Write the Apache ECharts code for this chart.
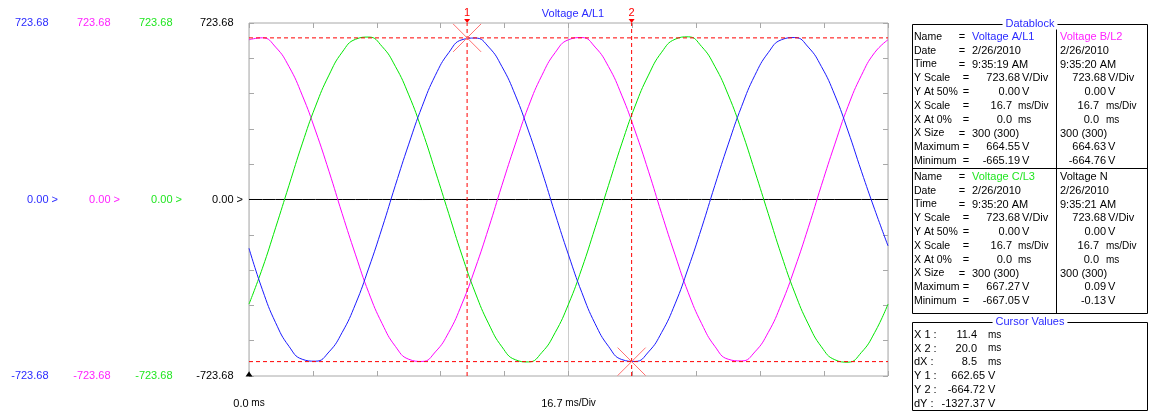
<!DOCTYPE html>
<html>
<head>
<meta charset="utf-8">
<title>Voltage A/L1</title>
<style>
html,body{margin:0;padding:0;background:#fff;}
#main{width:1154px;height:418px;}
</style>
</head>
<body>
<div id="main"></div>
<script src="https://cdn.jsdelivr.net/npm/echarts@6/dist/echarts.min.js"></script>
<script>
// sample times (ms) and channel values (V)
var timeMs = [0.00,0.70,1.39,2.09,2.78,3.48,4.18,4.87,5.57,6.26,6.96,7.65,8.35,9.05,9.74,10.44,11.13,11.83,12.53,13.22,13.92,14.61,15.31,16.00,16.70,17.40,18.09,18.79,19.48,20.18,20.88,21.57,22.27,22.96,23.66,24.35,25.05,25.75,26.44,27.14,27.83,28.53,29.23,29.92,30.62,31.31,32.01,32.70,33.40];
var voltA = [-200,-370,-505,-602,-655,-663,-625,-545,-428,-281,-116,58,227,382,509,602,655,662,625,545,428,281,116,-58,-227,-382,-509,-602,-656,-664,-625,-545,-428,-281,-116,58,227,382,509,602,655,664,625,545,428,281,116,-40,-190];
var voltB = [655,663,625,545,428,281,116,-58,-227,-382,-509,-602,-655,-664,-625,-545,-428,-281,-116,58,227,382,509,602,655,664,625,545,428,281,116,-58,-227,-382,-509,-602,-655,-662,-625,-545,-428,-281,-116,58,227,382,509,602,655];
var voltC = [-429,-282,-116,58,228,383,510,604,657,666,627,546,429,282,116,-58,-228,-383,-510,-604,-657,-666,-627,-546,-429,-282,-116,58,228,383,510,604,657,667,627,546,429,282,116,-58,-228,-383,-510,-604,-657,-667,-627,-546,-429];
var voltN = [0.02,-0.04,0.05,0.01,-0.06,0.09,0.03,-0.02,-0.08,0.04,0.06,-0.03,0.01,-0.13,0.02,0.07,-0.05,0.03,-0.01,0.05,-0.07,0.02,0.08,-0.04,0.01,-0.06,0.04,0.02,-0.09,0.05,-0.02,0.06,-0.03,0.01,0.07,-0.05,0.03,-0.08,0.02,0.04,-0.01,0.06,-0.04,0.03,-0.06,0.05,0.01,-0.03,0.02];

var yScale = 723.68;
var xSpan = 33.4;
var xDiv = 16.7;

var cursorX = [11.4, 20.0];
var cursorY = [662.65, -664.72];

// datablock
var rowLabels = ['Name','Date','Time','Y Scale','Y At 50%','X Scale','X At 0%','X Size','Maximum','Minimum'];
var chNames = ['Voltage A/L1','Voltage B/L2','Voltage C/L3','Voltage N'];
var chDates = ['2/26/2010','2/26/2010','2/26/2010','2/26/2010'];
var chTimes = ['9:35:19 AM','9:35:20 AM','9:35:20 AM','9:35:21 AM'];
var chMax = ['664.55','664.63','667.27','0.09'];
var chMin = ['-665.19','-664.76','-667.05','-0.13'];
var chColors = ['#2a2aff','#ff22ff','#22e622','#000000'];

var cursorLabels = ['X 1 :','X 2 :','dX :','Y 1 :','Y 2 :','dY :'];
var cursorValues = ['11.4','20.0','8.5','662.65','-664.72','-1327.37'];
var cursorUnits = ['ms','ms','ms','V','V','V'];

var FONT = '11px "Liberation Sans", Arial, sans-serif';
var FONT_L = '10.5px "Liberation Sans", Arial, sans-serif';
var FONT_S = '10px "Liberation Sans", Arial, sans-serif';
var GRID_C = '#a8a8a8';
var RED = '#ff0000';

function pairs(vals) {
    return timeMs.map(function (t, i) { return [t, vals[i]]; });
}

var g = [];
function txt(x, y, s, opts) {
    var st = {text: s, fill: '#000', font: FONT, align: 'left', verticalAlign: 'middle'};
    for (var k in opts || {}) st[k] = opts[k];
    g.push({type: 'text', x: x, y: y, silent: true, style: st});
}
function line(x1, y1, x2, y2) {
    g.push({type: 'line', silent: true, shape: {x1: x1, y1: y1, x2: x2, y2: y2}, style: {stroke: '#000', lineWidth: 1}});
}
function box(x, y, w, h) {
    g.push({type: 'rect', silent: true, shape: {x: x, y: y, width: w, height: h}, style: {fill: 'none', stroke: '#000', lineWidth: 1}});
}

// datablock frame
box(912.5, 24.5, 235, 289);
line(912, 168.5, 1148, 168.5);
line(1056.5, 25, 1056.5, 313);
txt(1030, 24, 'Datablock', {fill: '#2a2aff', align: 'center', backgroundColor: '#fff', padding: [0, 3]});

for (var c = 0; c < 4; c++) {
    var right = c % 2 === 1;
    var y0 = c < 2 ? 37 : 177;
    var tx = right ? 1060 : 972;
    var nV = right ? 1106 : 1020;
    var nMs = right ? 1099 : 1012;
    var uV = right ? 1108 : 1022;
    var uMs = right ? 1106 : 1018;
    for (var r = 0; r < rowLabels.length; r++) {
        var y = y0 + r * 13.8;
        var numeric = [3, 4, 5, 6, 8, 9].indexOf(r) >= 0;
        if (!right) {
            txt(914, y, rowLabels[r], {font: FONT_L});
            txt(numeric ? 966 : 962, y, '=', {align: 'center'});
        }
        if (r === 0) txt(tx, y, chNames[c], {fill: chColors[c]});
        if (r === 1) txt(tx, y, chDates[c]);
        if (r === 2) txt(tx, y, chTimes[c]);
        if (r === 7) txt(tx, y, '300 (300)');
        if (r === 3) { txt(nV, y, yScale.toFixed(2), {align: 'right'}); txt(uV, y, 'V/Div'); }
        if (r === 4) { txt(nV, y, '0.00', {align: 'right'}); txt(uV, y, 'V'); }
        if (r === 5) { txt(nMs, y, xDiv.toFixed(1), {align: 'right'}); txt(uMs, y, 'ms/Div', {font: FONT_S}); }
        if (r === 6) { txt(nMs, y, '0.0', {align: 'right'}); txt(uMs, y, 'ms', {font: FONT_S}); }
        if (r === 8) { txt(nV, y, chMax[c], {align: 'right'}); txt(uV, y, 'V'); }
        if (r === 9) { txt(nV, y, chMin[c], {align: 'right'}); txt(uV, y, 'V'); }
    }
}

// cursor values box
box(912.5, 322.5, 235, 88);
txt(1030, 322, 'Cursor Values', {fill: '#2a2aff', align: 'center', backgroundColor: '#fff', padding: [0, 3]});
for (var i = 0; i < cursorLabels.length; i++) {
    var cy = 335 + i * 13.7;
    txt(914, cy, cursorLabels[i]);
    txt(cursorUnits[i] === 'ms' ? 977 : 985, cy, cursorValues[i], {align: 'right'});
    txt(988, cy, cursorUnits[i], cursorUnits[i] === 'ms' ? {font: FONT_S} : {});
}

function labelAxis(offset, color) {
    return {
        type: 'value', position: 'left', offset: offset,
        min: -yScale, max: yScale, interval: yScale,
        axisLine: {show: false, onZero: false}, axisTick: {show: false}, splitLine: {show: false},
        axisLabel: {
            margin: 6, color: color, fontSize: 11, fontFamily: '"Liberation Sans", Arial, sans-serif',
            formatter: function (v) {
                return v.toFixed(2) + (Math.abs(v) < 1 ? '{g| >}' : '{h| >}');
            },
            rich: {g: {color: color, fontSize: 11}, h: {color: 'transparent', fontSize: 11}}
        }
    };
}

function tickAxisX(pos) {
    return {
        type: 'value', position: pos, min: 0, max: xSpan, interval: xSpan / 10,
        axisLine: {show: false, onZero: false}, axisLabel: {show: false}, splitLine: {show: false},
        axisTick: {inside: true, length: 5, lineStyle: {color: GRID_C}}
    };
}
function tickAxisY(pos) {
    return {
        type: 'value', position: pos, min: -yScale, max: yScale, interval: yScale / 5,
        axisLine: {show: false, onZero: false}, axisLabel: {show: false}, splitLine: {show: false},
        axisTick: {inside: true, length: 5, lineStyle: {color: GRID_C}}
    };
}

function cursorSeries(name, data) {
    return {
        name: name, type: 'line', data: data, showSymbol: false, silent: true, z: 3,
        lineStyle: {color: RED, type: [4, 3], width: 1}, itemStyle: {color: RED}
    };
}

var xMark = 'path://M0,0L10,10M10,0L0,10';

var myChart = echarts.init(document.getElementById('main'));
var option = {
    animation: false,
    title: {
        text: 'Voltage A/L1', left: 568, top: 3, textAlign: 'center',
        textStyle: {fontSize: 11, fontWeight: 'normal', color: '#2a2aff', fontFamily: '"Liberation Sans", Arial, sans-serif'}
    },
    grid: {left: 249, top: 23, width: 639, height: 353, show: true, borderColor: GRID_C, borderWidth: 1},
    xAxis: [
        tickAxisX('bottom'),
        tickAxisX('top'),
        {
            type: 'value', position: 'bottom', min: 0, max: xSpan, interval: xDiv,
            axisLine: {show: false, onZero: false}, axisTick: {show: false},
            splitLine: {show: true, lineStyle: {color: '#cccccc'}},
            axisLabel: {
                margin: 22, color: '#000', fontSize: 11, fontFamily: '"Liberation Sans", Arial, sans-serif',
                formatter: function (v) {
                    if (Math.abs(v) < 0.01) return '0.0{u| ms}';
                    if (Math.abs(v - xDiv) < 0.01) return xDiv.toFixed(1) + '{u| ms/Div}';
                    return '';
                },
                rich: {u: {fontSize: 10, color: '#000'}}
            }
        }
    ],
    yAxis: [
        tickAxisY('left'),
        tickAxisY('right'),
        labelAxis(0, '#000'),
        labelAxis(61, chColors[2]),
        labelAxis(123, chColors[1]),
        labelAxis(185, chColors[0])
    ],
    graphic: g,
    series: [
        {
            name: 'Voltage N', type: 'line', data: pairs(voltN), showSymbol: false,
            lineStyle: {color: '#000', width: 1}, itemStyle: {color: '#000'},
            markPoint: {
                silent: true, label: {show: false},
                data: [{coord: [0, -yScale], symbol: 'triangle', symbolSize: [7, 5], symbolOffset: [0, -2], itemStyle: {color: '#000'}}]
            }
        },
        {
            name: 'Voltage B/L2', type: 'line', data: pairs(voltB), showSymbol: false, smooth: true,
            lineStyle: {color: '#ff00ff', width: 1}, itemStyle: {color: '#ff00ff'}
        },
        {
            name: 'Voltage C/L3', type: 'line', data: pairs(voltC), showSymbol: false, smooth: true,
            lineStyle: {color: '#00e600', width: 1}, itemStyle: {color: '#00e600'}
        },
        {
            name: 'Voltage A/L1', type: 'line', data: pairs(voltA), showSymbol: false, smooth: true,
            lineStyle: {color: '#1a1aff', width: 1}, itemStyle: {color: '#1a1aff'},
            markPoint: {
                silent: true, label: {show: false},
                data: [
                    {coord: [cursorX[0], cursorY[0]], symbol: xMark, symbolSize: 28, itemStyle: {color: 'none', borderColor: '#ff7070', borderWidth: 1}},
                    {coord: [cursorX[1], cursorY[1]], symbol: xMark, symbolSize: 28, itemStyle: {color: 'none', borderColor: '#ff7070', borderWidth: 1}},
                    {coord: [cursorX[0], yScale], symbol: 'triangle', symbolRotate: 180, symbolSize: [6, 4], symbolOffset: [0, -2],
                        itemStyle: {color: RED}, label: {show: true, formatter: '1', position: 'top', distance: 1, color: RED, fontSize: 11}},
                    {coord: [cursorX[1], yScale], symbol: 'triangle', symbolRotate: 180, symbolSize: [6, 4], symbolOffset: [0, -2],
                        itemStyle: {color: RED}, label: {show: true, formatter: '2', position: 'top', distance: 1, color: RED, fontSize: 11}}
                ]
            }
        },
        cursorSeries('Cursor 1', [[cursorX[0], -yScale], [cursorX[0], yScale]]),
        cursorSeries('Cursor 2', [[cursorX[1], -yScale], [cursorX[1], yScale]]),
        cursorSeries('Y 1', [[0, cursorY[0]], [xSpan, cursorY[0]]]),
        cursorSeries('Y 2', [[0, cursorY[1]], [xSpan, cursorY[1]]])
    ]
};
myChart.setOption(option);
</script>
</body>
</html>
